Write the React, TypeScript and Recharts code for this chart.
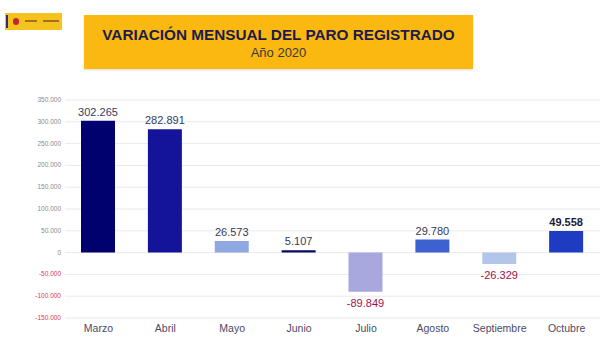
import { BarChart, Bar, XAxis, YAxis, CartesianGrid, Cell, LabelList } from 'recharts';

const months = ['Marzo', 'Abril', 'Mayo', 'Junio', 'Julio', 'Agosto', 'Septiembre', 'Octubre'];
const paroChange = [302265, 282891, 26573, 5107, -89849, 29780, -26329, 49558];
const barColors = ['#00006e', '#14149a', '#8fa8e2', '#0a0a60', '#a8a8de', '#3d62cf', '#b3c6ea', '#1d3cc2'];
const yTicks = [-150000, -100000, -50000, 0, 50000, 100000, 150000, 200000, 250000, 300000, 350000];

const data = months.map((m, i) => ({ month: m, value: paroChange[i], color: barColors[i] }));

const fmt = (v: number) => {
  const s = Math.abs(v).toString().replace(/\B(?=(\d{3})+(?!\d))/g, '.');
  return (v < 0 ? '-' : '') + s;
};

const YTick = ({ x, y, payload }: any) => (
  <text x={x + 4} y={y} dy={2} textAnchor="end" fontSize={6.5} fill={payload.value < 0 ? '#d43a5c' : '#8a8a8a'}>
    {fmt(payload.value)}
  </text>
);

const ValueLabel = ({ x, y, width, height, value, index }: any) => {
  const neg = value < 0;
  const cx = x + width / 2;
  const top = Math.min(y, y + height);
  const bottom = Math.max(y, y + height);
  const last = index === months.length - 1;
  return (
    <text
      x={cx}
      y={neg ? bottom + 15 : top - 5}
      textAnchor="middle"
      fontSize={11}
      fontWeight={last ? 700 : 400}
      fill={neg ? '#a3104c' : last ? '#1a1a3a' : '#363a5c'}
    >
      {fmt(value)}
    </text>
  );
};

export default function App() {
  return (
    <div
      style={{
        position: 'absolute',
        left: 0,
        top: 0,
        width: 600,
        height: 341,
        background: '#fff',
        fontFamily: '"Liberation Sans", Arial, sans-serif',
        overflow: 'hidden',
      }}
    >
      {/* logo */}
      <div style={{ position: 'absolute', left: 5, top: 13, width: 57, height: 17, background: '#f6c21e' }}>
        <div style={{ position: 'absolute', left: 1, top: 2, width: 2, height: 13, background: '#3a2a6a' }} />
        <div style={{ position: 'absolute', left: 8, top: 5, width: 6, height: 7, borderRadius: 3, background: '#c4242c' }} />
        <div style={{ position: 'absolute', left: 20, top: 7, width: 12, height: 2, background: '#a07020' }} />
        <div style={{ position: 'absolute', left: 38, top: 7, width: 16, height: 2, background: '#a07020' }} />
      </div>
      {/* header */}
      <div
        style={{
          position: 'absolute',
          left: 84,
          top: 15,
          width: 389,
          height: 54,
          background: '#fbb811',
          boxShadow: '0 1px 2px rgba(0,0,0,0.15)',
          textAlign: 'center',
        }}
      >
        <div style={{ marginTop: 11, fontSize: 15.3, fontWeight: 700, color: '#1c1c4c' }}>
          VARIACIÓN MENSUAL DEL PARO REGISTRADO
        </div>
        <div style={{ marginTop: 1, fontSize: 13, color: '#3a3a3a' }}>Año 2020</div>
      </div>
      <div style={{ position: 'absolute', left: 0, top: 0 }}>
        <BarChart width={600} height={341} data={data} margin={{ top: 100, right: 0, bottom: 0, left: 0 }}>
          <CartesianGrid vertical={false} stroke="#e9e9ef" />
          <XAxis
            dataKey="month"
            axisLine={false}
            tickLine={false}
            tickSize={0}
            tickMargin={7}
            height={23}
            interval={0}
            tick={{ fontSize: 10.5, fill: '#4a4a66' }}
          />
          <YAxis
            width={65}
            domain={[-150000, 350000]}
            ticks={yTicks}
            axisLine={false}
            tickLine={false}
            tick={<YTick />}
            interval={0}
          />
          <Bar dataKey="value" barSize={34} isAnimationActive={false}>
            {data.map((d) => (
              <Cell key={d.month} fill={d.color} />
            ))}
            <LabelList dataKey="value" content={<ValueLabel />} />
          </Bar>
        </BarChart>
      </div>
    </div>
  );
}
